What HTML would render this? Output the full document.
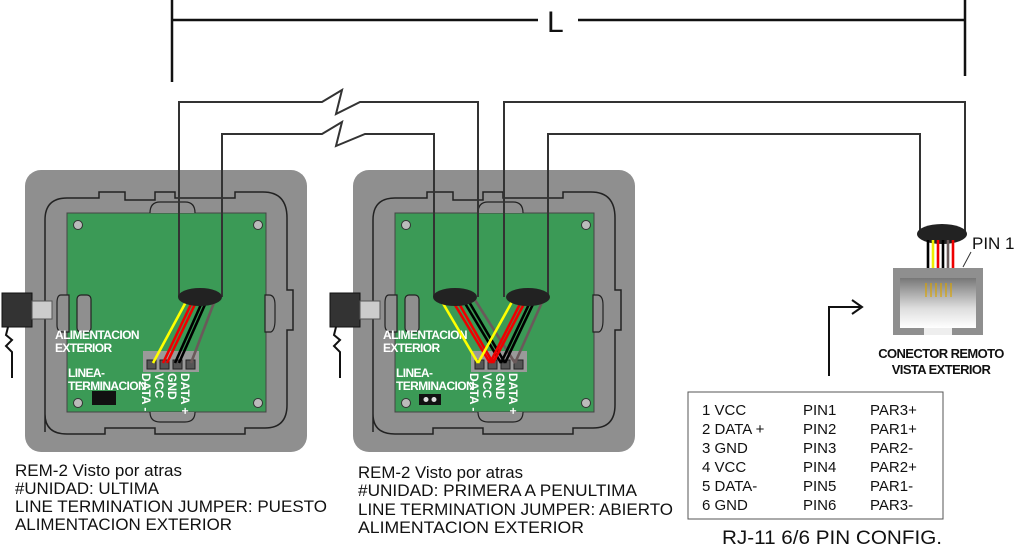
<!DOCTYPE html>
<html><head><meta charset="utf-8"><style>
html,body{margin:0;padding:0;background:#fff;}
svg{display:block;}
text{font-family:"Liberation Sans",Arial,sans-serif;}
</style></head><body>
<svg width="1019" height="546" viewBox="0 0 1019 546" xmlns="http://www.w3.org/2000/svg">
<defs>
<linearGradient id="cg" x1="0" y1="0" x2="0" y2="1">
<stop offset="0" stop-color="#777"/><stop offset="0.6" stop-color="#ddd"/><stop offset="1" stop-color="#fff"/>
</linearGradient>
<g id="mod">
  <rect x="0" y="0" width="282" height="282" rx="16" fill="#8f8f8f"/>
  <path d="M20 262 L20 50 Q20 28 42 28 L74 28 L74 22 L100 22 L100 30 L130 30 L130 22 L150 22 L150 28 L210 28 L210 22 L238 22 Q262 22 262 48 L262 120 L268 120 L268 160 L262 160 L262 235 Q262 258 240 258 L220 258 L220 264 L130 264 L130 258 L80 258 L80 264 L42 264 Q20 264 20 244" fill="none" stroke="#222" stroke-width="1.5"/>
  <rect x="42" y="43" width="199" height="199" fill="#3b9a56" stroke="#444" stroke-width="1"/>
  <path d="M125 43 Q125 32 135 32 L160 32 Q170 32 170 43" fill="#8f8f8f" stroke="#222" stroke-width="1.2"/>
  <path d="M125 242 Q125 252 135 252 L160 252 Q170 252 170 242" fill="#8f8f8f" stroke="#222" stroke-width="1.2"/>
  <g fill="#bbb" stroke="#333" stroke-width="1">
    <circle cx="53" cy="55" r="4.5"/><circle cx="233" cy="55" r="4.5"/>
    <circle cx="53" cy="233" r="4.5"/><circle cx="233" cy="233" r="4.5"/>
  </g>
  <path d="M36 125 Q32 125 32 133 L32 155 Q32 162 38 162 L44 162 L44 125 Z" fill="#8f8f8f" stroke="#222" stroke-width="1.2"/>
  <rect x="52" y="125" width="14" height="37" rx="4" fill="#8f8f8f" stroke="#222" stroke-width="1.2"/>
  <path d="M244 125 L240 125 L240 162 L246 162 Q250 160 250 150 L250 135 Q250 125 244 125Z" fill="#8f8f8f" stroke="#222" stroke-width="1.2"/>
  <text x="30" y="169" font-size="12" font-weight="bold" fill="#fff" letter-spacing="-0.6">ALIMENTACION</text>
  <text x="30" y="182" font-size="12" font-weight="bold" fill="#fff" letter-spacing="-0.6">EXTERIOR</text>
  <text x="43" y="207" font-size="12" font-weight="bold" fill="#fff" letter-spacing="-0.6">LINEA-</text>
  <text x="43" y="220" font-size="12" font-weight="bold" fill="#fff" letter-spacing="-0.6">TERMINACION</text>
  <rect x="118" y="181" width="56" height="21" fill="#9a9a9a"/>
  <g fill="#555" stroke="#222" stroke-width="1">
    <rect x="122" y="190" width="9" height="9"/><rect x="135" y="190" width="9" height="9"/>
    <rect x="148" y="190" width="9" height="9"/><rect x="161" y="190" width="9" height="9"/>
  </g>
  <g font-size="12" font-weight="bold" fill="#fff">
    <text transform="translate(117,203) rotate(90)">DATA -</text>
    <text transform="translate(130,203) rotate(90)">VCC</text>
    <text transform="translate(143,203) rotate(90)">GND</text>
    <text transform="translate(156,203) rotate(90)">DATA +</text>
  </g>
</g>
<g id="plug">
  <rect x="2" y="293" width="30" height="34" fill="#333" stroke="#111"/>
  <rect x="32" y="301" width="20" height="18" fill="#ccc" stroke="#555"/>
  <path d="M8 327 L6 335 L12 340 L6 346 L12 352 L12 378" fill="none" stroke="#111" stroke-width="2"/>
</g>
</defs>

<g stroke="#111" stroke-width="2.5" fill="none">
  <line x1="172" y1="0" x2="172" y2="82"/>
  <line x1="965" y1="0" x2="965" y2="76"/>
  <line x1="172" y1="20" x2="538" y2="20"/>
  <line x1="578" y1="20" x2="965" y2="20"/>
</g>
<text x="547" y="32" font-size="30" fill="#111">L</text>

<g transform="translate(25,170)"><use href="#mod"/></g>
<g transform="translate(353,170)"><use href="#mod"/></g>
<use href="#plug"/>
<g transform="translate(328,0)"><use href="#plug"/></g>

<g stroke="#333" stroke-width="2" fill="none">
  <path d="M179 297 L179 102 L322 102 L342 90 L336 114 L360 102 L478 102 L478 297"/>
  <path d="M222 297 L222 134 L322 134 L342 122 L336 146 L365 134 L434 134 L434 297"/>
  <path d="M504 297 L504 102 L965 102 L965 233"/>
  <path d="M548 297 L548 134 L920 134 L920 233"/>
</g>

<g stroke-width="2.6" fill="none">
  <line x1="187" y1="300" x2="153" y2="363" stroke="#ff0"/>
  <line x1="193" y1="300" x2="163" y2="363" stroke="#e00"/>
  <line x1="197" y1="300" x2="167" y2="363" stroke="#e00"/>
  <line x1="203" y1="300" x2="175" y2="363" stroke="#000"/>
  <line x1="207" y1="300" x2="179" y2="363" stroke="#000"/>
  <line x1="215" y1="300" x2="191" y2="363" stroke="#6a5a5a"/>
</g>
<ellipse cx="200" cy="297" rx="22" ry="9" fill="#222"/>
<g stroke-width="2.6" fill="none">
  <line x1="441" y1="300" x2="478" y2="363" stroke="#ff0"/>
  <line x1="452" y1="300" x2="490" y2="363" stroke="#e00"/>
  <line x1="457" y1="300" x2="493" y2="363" stroke="#e00"/>
  <line x1="463" y1="300" x2="501" y2="363" stroke="#000"/>
  <line x1="468" y1="300" x2="505" y2="363" stroke="#000"/>
  <line x1="475" y1="300" x2="515" y2="363" stroke="#6a5a5a"/>
  <line x1="513" y1="300" x2="478" y2="363" stroke="#ff0"/>
  <line x1="522" y1="300" x2="490" y2="363" stroke="#e00"/>
  <line x1="526" y1="300" x2="493" y2="363" stroke="#e00"/>
  <line x1="531" y1="300" x2="501" y2="363" stroke="#000"/>
  <line x1="535" y1="300" x2="505" y2="363" stroke="#000"/>
  <line x1="543" y1="300" x2="515" y2="363" stroke="#6a5a5a"/>
</g>
<ellipse cx="455" cy="297" rx="22" ry="9" fill="#222"/>
<ellipse cx="528" cy="297" rx="22" ry="9" fill="#222"/>
<rect x="419" y="394" width="22" height="11" fill="#111"/>
<circle cx="426" cy="399.5" r="2.5" fill="#ddd"/><circle cx="434" cy="399.5" r="2.5" fill="#ddd"/>
<rect x="92" y="391" width="24" height="14" fill="#111"/>

<ellipse cx="942" cy="234" rx="25" ry="10" fill="#222"/>
<g stroke-width="2.6">
  <line x1="928" y1="240" x2="928" y2="268" stroke="#000"/>
  <line x1="933" y1="240" x2="933" y2="268" stroke="#ee0"/>
  <line x1="938" y1="240" x2="938" y2="268" stroke="#e00"/>
  <line x1="943" y1="240" x2="943" y2="268" stroke="#000"/>
  <line x1="948" y1="240" x2="948" y2="268" stroke="#6a5a5a"/>
  <line x1="953" y1="240" x2="953" y2="268" stroke="#e00"/>
</g>
<line x1="963" y1="267" x2="971" y2="252" stroke="#333" stroke-width="1"/>
<text x="972" y="249" font-size="17" fill="#111">PIN 1</text>
<rect x="893" y="268" width="90" height="67" fill="#8f8f8f"/>
<rect x="900" y="278" width="76" height="50" fill="url(#cg)"/>
<rect x="924" y="328" width="28" height="7" fill="#eee"/>
<g stroke="#d9a400" stroke-width="1.2">
  <line x1="926" y1="283" x2="926" y2="297"/><line x1="931" y1="283" x2="931" y2="297"/>
  <line x1="936" y1="283" x2="936" y2="297"/><line x1="941" y1="283" x2="941" y2="297"/>
  <line x1="946" y1="283" x2="946" y2="297"/><line x1="951" y1="283" x2="951" y2="297"/>
</g>
<text x="941" y="358" font-size="13" font-weight="bold" fill="#111" text-anchor="middle" letter-spacing="-0.6">CONECTOR REMOTO</text>
<text x="941" y="374" font-size="13" font-weight="bold" fill="#111" text-anchor="middle" letter-spacing="-0.6">VISTA EXTERIOR</text>

<path d="M829 376 L829 307 L860 307" fill="none" stroke="#111" stroke-width="2"/>
<path d="M852 300 L862 307 L852 314" fill="none" stroke="#111" stroke-width="2"/>

<rect x="688" y="392" width="255" height="127" fill="#fff" stroke="#555" stroke-width="1"/>
<g font-size="15" fill="#111">
  <text x="702" y="415">1 VCC</text><text x="803" y="415">PIN1</text><text x="870" y="415">PAR3+</text>
  <text x="702" y="434">2 DATA +</text><text x="803" y="434">PIN2</text><text x="870" y="434">PAR1+</text>
  <text x="702" y="453">3 GND</text><text x="803" y="453">PIN3</text><text x="870" y="453">PAR2-</text>
  <text x="702" y="472">4 VCC</text><text x="803" y="472">PIN4</text><text x="870" y="472">PAR2+</text>
  <text x="702" y="491">5 DATA-</text><text x="803" y="491">PIN5</text><text x="870" y="491">PAR1-</text>
  <text x="702" y="510">6 GND</text><text x="803" y="510">PIN6</text><text x="870" y="510">PAR3-</text>
</g>
<text x="722" y="544" font-size="19" fill="#111" textLength="220" lengthAdjust="spacingAndGlyphs">RJ-11 6/6 PIN CONFIG.</text>

<g font-size="17" fill="#111">
  <text x="15" y="476" textLength="167" lengthAdjust="spacingAndGlyphs">REM-2 Visto por atras</text>
  <text x="15" y="494" textLength="144" lengthAdjust="spacingAndGlyphs">#UNIDAD: ULTIMA</text>
  <text x="15" y="512" textLength="312" lengthAdjust="spacingAndGlyphs">LINE TERMINATION JUMPER: PUESTO</text>
  <text x="15" y="530" textLength="217" lengthAdjust="spacingAndGlyphs">ALIMENTACION EXTERIOR</text>
  <text x="358" y="478" textLength="165" lengthAdjust="spacingAndGlyphs">REM-2 Visto por atras</text>
  <text x="358" y="496" textLength="279" lengthAdjust="spacingAndGlyphs">#UNIDAD:  PRIMERA A PENULTIMA</text>
  <text x="358" y="515" textLength="315" lengthAdjust="spacingAndGlyphs">LINE TERMINATION JUMPER: ABIERTO</text>
  <text x="358" y="533" textLength="226" lengthAdjust="spacingAndGlyphs">ALIMENTACION EXTERIOR</text>
</g>
</svg>
</body></html>
